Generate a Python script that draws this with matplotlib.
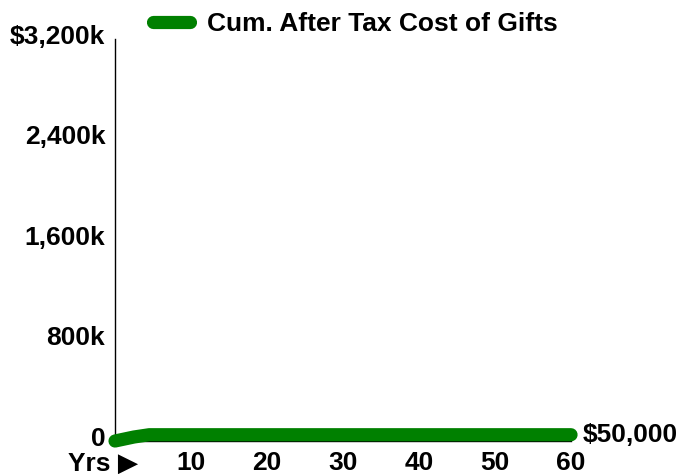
import matplotlib
matplotlib.use("Agg")
import matplotlib.pyplot as plt
import matplotlib.transforms as mtransforms

plt.rcParams["font.family"] = ["Liberation Sans", "DejaVu Sans"]
plt.rcParams["font.weight"] = "bold"
plt.rcParams["font.size"] = 19

# data
years = [0, 2.5, 4.5, 10, 20, 30, 40, 50, 60]
cum_cost = [0, 32000, 50000, 50000, 50000, 50000, 50000, 50000, 50000]
y_ticks = [0, 800000, 1600000, 2400000, 3200000]
y_tick_labels = ["0", "800k", "1,600k", "2,400k", "$3,200k"]
x_ticks = [10, 20, 30, 40, 50, 60]
series_name = "Cum. After Tax Cost of Gifts"
end_label = "$50,000"

fig = plt.figure(figsize=(6.79, 4.74), dpi=100)
ax = fig.add_axes([0.1694, 0.0696, 0.841 - 0.1694, 0.9177 - 0.0696])

ax.plot(years, cum_cost, color="#008000", linewidth=9.5,
        solid_capstyle="round", solid_joinstyle="round", label=series_name,
        zorder=3, clip_on=False)

ax.set_xlim(0, 60)
ax.set_ylim(0, 3200000)
ax.set_yticks(y_ticks)
ax.set_yticklabels(y_tick_labels)
ax.set_xticks(x_ticks)
ax.tick_params(length=0)
ax.tick_params(axis="y", pad=7)
ax.tick_params(axis="x", pad=7)

# y labels sit a little above their values
shift = mtransforms.ScaledTranslation(0, 5 / 100, fig.dpi_scale_trans)
for lab in ax.get_yticklabels():
    lab.set_transform(lab.get_transform() + shift)

ax.spines["top"].set_visible(False)
ax.spines["right"].set_visible(False)
ax.spines["left"].set_linewidth(1)
ax.spines["bottom"].set_linewidth(1)

# end value label
ax.annotate(end_label, xy=(years[-1], cum_cost[-1]), xytext=(8.6, 0),
            textcoords="offset points", va="center", ha="left",
            fontweight="bold", annotation_clip=False)

# x axis caption
ax.text(0.05, -0.056, "Yrs \u25b6", transform=ax.transAxes, ha="right",
        va="center", fontweight="bold")

fig.legend(loc="center left", bbox_to_anchor=(0.2253, 0.9494), frameon=False,
           handlelength=1.4, handletextpad=0.65, borderpad=0, borderaxespad=0)

fig.savefig("out.png", dpi=100)
